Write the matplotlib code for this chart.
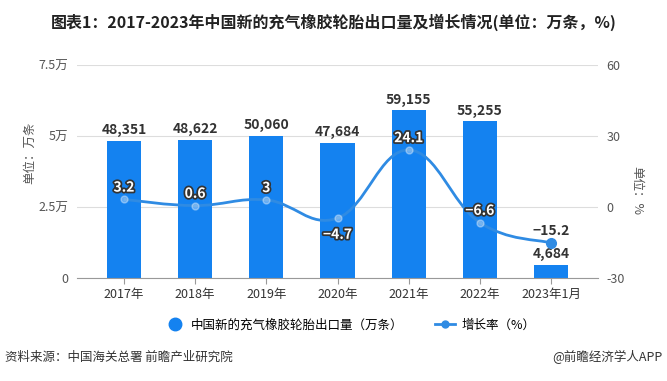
import matplotlib
matplotlib.use('Agg')
from matplotlib import pyplot as plt
from matplotlib.path import Path
from matplotlib.lines import Line2D
import matplotlib.patches as patches
import matplotlib.patheffects as pe

plt.rcParams['font.family'] = ['Noto Sans CJK SC', 'DejaVu Sans']
plt.rcParams['axes.unicode_minus'] = False

# data
years = ['2017年', '2018年', '2019年', '2020年', '2021年', '2022年', '2023年1月']
export = [48351, 48622, 50060, 47684, 59155, 55255, 4684]
growth = [3.2, 0.6, 3, -4.7, 24.1, -6.6, -15.2]
growth_txt = ['3.2', '0.6', '3', '−4.7', '24.1', '−6.6', '−15.2']
left_ticks = [0, 25000, 50000, 75000]
left_ticklabels = ['0', '2.5万', '5万', '7.5万']
right_ticks = [-30, 0, 30, 60]

bar_c = '#1482f0'
line_c = '#2f8be3'
grey = '#555555'

fig = plt.figure(figsize=(6.67, 3.81), dpi=100)
ax1 = fig.add_axes([0.1154, 0.2703, 0.7812, 0.5591])
ax2 = ax1.twinx()

x = list(range(len(years)))
ax1.bar(x, export, width=0.48, color=bar_c, zorder=2)
for xi, v in zip(x, export):
    ax1.annotate(f'{v:,}', (xi, v), xytext=(0, 2.5), textcoords='offset points',
                 ha='center', va='bottom', fontsize=10, fontweight='bold', color='#333333')

ax1.set_xlim(-0.66, 6.66)
ax1.set_ylim(0, 75000)
ax1.set_yticks(left_ticks)
ax1.set_yticklabels(left_ticklabels)
ax2.set_ylim(-30, 60)
ax2.set_yticks(right_ticks)
ax1.set_xticks(x)
ax1.set_xticklabels(years)

for ax in (ax1, ax2):
    for s in ['top', 'left', 'right']:
        ax.spines[s].set_visible(False)
    ax.tick_params(axis='y', length=0, labelsize=9, labelcolor=grey, pad=6)
ax2.spines['bottom'].set_visible(False)
ax1.spines['bottom'].set_color('#999999')
ax1.tick_params(axis='x', length=4, color='#999999', labelsize=9, labelcolor='#333333', pad=3)
ax1.yaxis.grid(True, color='#dddddd', linewidth=0.8, zorder=0)
ax1.set_axisbelow(True)

# smooth growth line (bezier through the points)
pts = list(zip(x, growth))
s = 0.2
verts = [pts[0]]
codes = [Path.MOVETO]
for i in range(len(pts) - 1):
    p0 = pts[max(i - 1, 0)]
    p1 = pts[i]
    p2 = pts[i + 1]
    p3 = pts[min(i + 2, len(pts) - 1)]
    c1 = (p1[0] + (p2[0] - p0[0]) * s, p1[1] + (p2[1] - p0[1]) * s)
    c2 = (p2[0] - (p3[0] - p1[0]) * s, p2[1] - (p3[1] - p1[1]) * s)
    verts += [c1, c2, p2]
    codes += [Path.CURVE4] * 3
ax2.add_patch(patches.PathPatch(Path(verts, codes), facecolor='none', edgecolor=line_c,
                                linewidth=2, zorder=3))
ax2.plot(x[:-1], growth[:-1], 'o', ms=5, mfc='white', mec='white', alpha=0.35, zorder=4)
ax2.plot(x[-1:], growth[-1:], 'o', ms=7, color=line_c, zorder=4)

offs = [8.5, 8.5, 8.5, -12, 8.5, 8.5, 8.5]
for xi, v, t, o in zip(x, growth, growth_txt, offs):
    if xi == len(x) - 1:
        ax2.annotate(t, (xi, v), xytext=(0, o), textcoords='offset points', ha='center',
                     va='center', fontsize=10, fontweight='bold', color='#333333')
    else:
        ax2.annotate(t, (xi, v), xytext=(0, o), textcoords='offset points', ha='center',
                     va='center', fontsize=10, fontweight='bold', color='white',
                     path_effects=[pe.withStroke(linewidth=2.5, foreground='#333333')])

# titles and notes
fig.text(0.5, 0.942, '图表1：2017-2023年中国新的充气橡胶轮胎出口量及增长情况(单位：万条，%)',
         ha='center', va='center', fontsize=11.5, fontweight='bold', color='#222222')
fig.text(0.045, 0.6, '单位：万条', rotation=90, ha='center', va='center', fontsize=9, color=grey)
fig.text(0.955, 0.5, '单位：%', rotation=270, ha='center', va='center', fontsize=9, color=grey)

handles = [Line2D([], [], marker='o', linestyle='none', color=bar_c, markersize=9),
           Line2D([], [], marker='o', color=line_c, linewidth=2, markersize=5)]
fig.legend(handles, ['中国新的充气橡胶轮胎出口量（万条）', '增长率（%）'], loc='center',
           bbox_to_anchor=(0.525, 0.147), ncol=2, frameon=False, fontsize=9,
           handlelength=1.6, columnspacing=2.5, handletextpad=0.5)

fig.text(0.008, 0.062, '资料来源：中国海关总署 前瞻产业研究院', ha='left', va='center', fontsize=9, color='#333333')
fig.text(0.993, 0.062, '@前瞻经济学人APP', ha='right', va='center', fontsize=9, color='#333333')

plt.savefig('out.png', dpi=100)
